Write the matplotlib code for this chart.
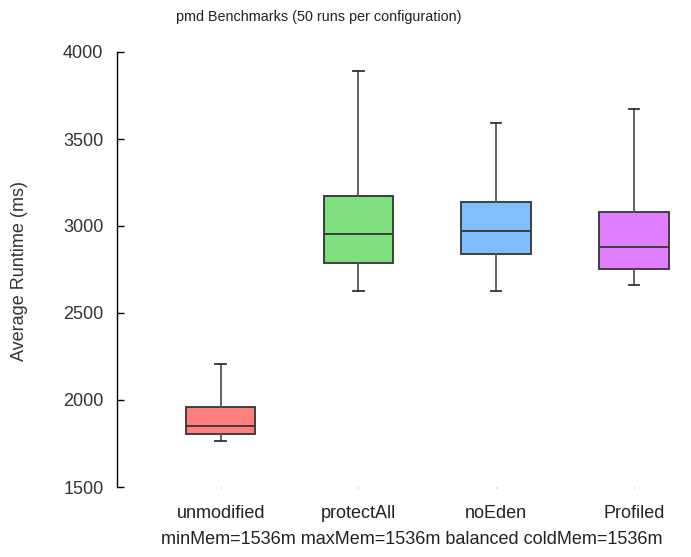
import matplotlib
matplotlib.use("Agg")
import matplotlib.pyplot as plt
from matplotlib import font_manager

plt.rcParams['font.family'] = ['Liberation Sans', 'DejaVu Sans']

categories = ["unmodified", "protectAll", "noEden", "Profiled"]
whislo = [1763, 2628, 2626, 2661]
q1 = [1803, 2785, 2841, 2751]
med = [1852, 2952, 2971, 2881]
q3 = [1962, 3172, 3136, 3080]
whishi = [2205, 3891, 3592, 3674]
colors = ["#FF7F7F", "#7FDF7F", "#7FBFFF", "#DF7FFF"]
yticks = [1500, 2000, 2500, 3000, 3500, 4000]
title = "pmd Benchmarks (50 runs per configuration)"
ylabel = "Average Runtime (ms)"
xlabel = "minMem=1536m maxMem=1536m balanced coldMem=1536m"

try:
    font_manager.findfont("Liberation Sans Narrow", fallback_to_default=False)
    title_family = ["Liberation Sans Narrow", "DejaVu Sans"]
    title_size = 12.5
except Exception:
    title_family = ["Liberation Sans", "DejaVu Sans"]
    title_size = 10.4

W, H = 691, 557
fig = plt.figure(figsize=(W / 100, H / 100), dpi=100)
ax = fig.add_axes([117.3 / W, (H - 487) / H, (691 - 117.3) / W, (487 - 52) / H])

stats = []
for i, c in enumerate(categories):
    stats.append(dict(label=c, whislo=whislo[i], q1=q1[i], med=med[i],
                      q3=q3[i], whishi=whishi[i], fliers=[]))
positions = list(range(1, len(categories) + 1))
bp = ax.bxp(stats, positions=positions, widths=0.505, patch_artist=True,
            showfliers=False, capwidths=0.075,
            boxprops=dict(edgecolor="#333333", linewidth=1.3),
            medianprops=dict(color="#333333", linewidth=1.3),
            whiskerprops=dict(color="#555555", linewidth=1.3),
            capprops=dict(color="#333333", linewidth=1.3))
for patch, col in zip(bp['boxes'], colors):
    patch.set_facecolor(col)

ax.set_xlim(0.25, 0.25 + (691 - 117.3) / 137.8)
ax.set_ylim(1500, 4000)
ax.set_yticks(yticks)
ax.set_yticklabels([str(t) for t in yticks])
ax.set_xticks(positions)
ax.set_xticklabels(categories)

for s in ["top", "right", "bottom"]:
    ax.spines[s].set_visible(False)
ax.spines["left"].set_color("black")
ax.spines["left"].set_linewidth(1.0)
ax.tick_params(axis="y", direction="in", length=5, width=1.0, pad=10,
               labelsize=13, labelcolor="#333333", colors="black")
ax.tick_params(axis="y", labelcolor="#333333")
ax.tick_params(axis="x", direction="out", length=1, width=0.6, color="#999999",
               pad=12, labelsize=13, labelcolor="#222222")

fig.text(319 / W, 1 - 17 / H, title, ha="center", va="center",
         fontsize=title_size, family=title_family, color="#222222")
fig.text(20 / W, 1 - 271 / H, ylabel, ha="center", va="center", rotation=90,
         fontsize=13, color="#333333")
fig.text(412 / W, 1 - 540 / H, xlabel, ha="center", va="center", fontsize=13, color="#222222")

fig.savefig("out.png", dpi=100)
